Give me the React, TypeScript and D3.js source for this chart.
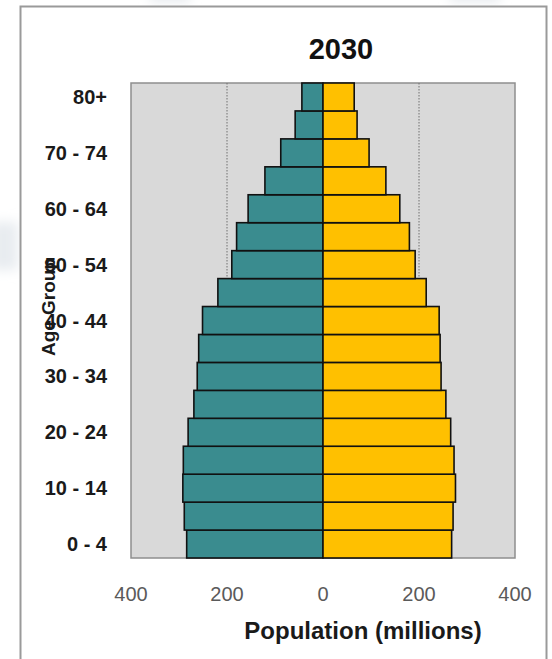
import React from "react";
import * as d3 from "d3";

const ageGroups = [
  "0 - 4", "5 - 9", "10 - 14", "15 - 19", "20 - 24", "25 - 29", "30 - 34", "35 - 39",
  "40 - 44", "45 - 49", "50 - 54", "55 - 59", "60 - 64", "65 - 69", "70 - 74", "75 - 79", "80+",
];
const male = [284, 289, 292, 291, 281, 269, 262, 259, 251, 219, 190, 180, 156, 121, 88, 58, 44];
const female = [268, 271, 276, 273, 266, 256, 246, 244, 242, 215, 192, 180, 160, 131, 96, 71, 65];
const xTicks = [-400, -200, 0, 200, 400];
const gridValues = [-200, 200];
const title = "2030";
const xTitle = "Population (millions)";
const yTitle = "Age Group";

const W = 552;
const H = 659;
const plot = { left: 131, right: 515, top: 83, bottom: 558 };
const font = "Arial, 'Liberation Sans', Helvetica, sans-serif";

export default function App() {
  const x = d3.scaleLinear().domain([-400, 400]).range([plot.left, plot.right]);
  const y = d3
    .scaleBand<string>()
    .domain([...ageGroups].reverse())
    .range([plot.top, plot.bottom])
    .padding(0);
  const bw = y.bandwidth();

  return (
    <svg
      width={W}
      height={H}
      style={{ position: "absolute", left: 0, top: 0, background: "#fff" }}
      fontFamily={font}
    >
      <defs>
        <filter id="blur" x="-50%" y="-50%" width="200%" height="200%">
          <feGaussianBlur stdDeviation="6" />
        </filter>
      </defs>
      {/* faint slide background */}
      <rect x={-10} y={222} width={28} height={48} fill="#e8ecf0" filter="url(#blur)" />
      <rect x={150} y={-14} width={40} height={16} fill="#e6eaee" filter="url(#blur)" />
      <rect x={450} y={-14} width={50} height={16} fill="#e6eaee" filter="url(#blur)" />

      {/* outer frame */}
      <rect x={20.5} y={6.5} width={526} height={H + 20} fill="#fff" stroke="#9a9a9a" strokeWidth={2} />

      <text x={341} y={59} textAnchor="middle" fontSize={29} fontWeight="bold" fill="#111">
        {title}
      </text>

      {/* plot area */}
      <rect
        x={plot.left}
        y={plot.top}
        width={plot.right - plot.left}
        height={plot.bottom - plot.top}
        fill="#d9d9d9"
        stroke="#8e8e8e"
        strokeWidth={1.5}
      />
      {gridValues.map((v) => (
        <line
          key={v}
          x1={x(v)}
          x2={x(v)}
          y1={plot.top}
          y2={plot.bottom}
          stroke="#707070"
          strokeWidth={1}
          strokeDasharray="1.5,1.5"
        />
      ))}

      {/* bars */}
      {ageGroups.map((g, i) => (
        <g key={g}>
          <rect
            x={x(-male[i])}
            y={y(g)!}
            width={x(0) - x(-male[i])}
            height={bw}
            fill="#3a8c8f"
            stroke="#111"
            strokeWidth={1.6}
          />
          <rect
            x={x(0)}
            y={y(g)!}
            width={x(female[i]) - x(0)}
            height={bw}
            fill="#ffc000"
            stroke="#111"
            strokeWidth={1.6}
          />
        </g>
      ))}

      {/* y labels */}
      {ageGroups.map((g, i) =>
        i % 2 === 0 ? (
          <text
            key={g}
            x={107}
            y={y(g)! + bw / 2 + 7}
            textAnchor="end"
            fontSize={20}
            fontWeight="bold"
            fill="#1a1a1a"
          >
            {g}
          </text>
        ) : null
      )}

      <text
        transform={`translate(55,307) rotate(-90)`}
        textAnchor="middle"
        fontSize={19}
        fontWeight="bold"
        fill="#1a1a1a"
      >
        {yTitle}
      </text>

      {/* x ticks */}
      {xTicks.map((t) => (
        <text key={t} x={x(t)} y={601} textAnchor="middle" fontSize={20} fill="#5a5a5a">
          {Math.abs(t)}
        </text>
      ))}

      <text x={363} y={639} textAnchor="middle" fontSize={24} fontWeight="bold" fill="#1a1a1a">
        {xTitle}
      </text>
    </svg>
  );
}
